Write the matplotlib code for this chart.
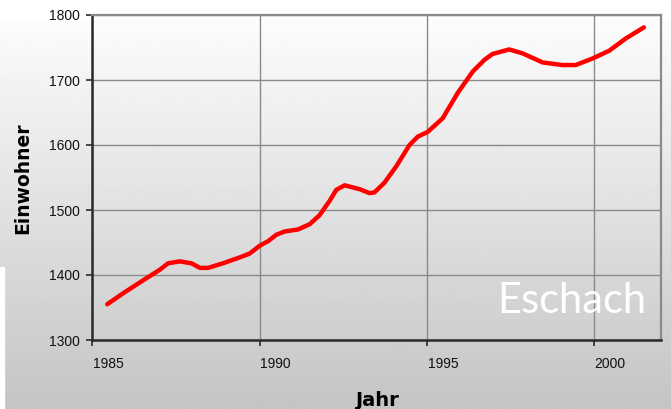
import numpy as np
import matplotlib
matplotlib.use("Agg")
import matplotlib.pyplot as plt
import matplotlib.transforms as mtransforms
from matplotlib.patches import Rectangle

# ---------------------------
# Data
# ---------------------------
years = [1985.44, 1985.92, 1986.52, 1987.01, 1987.26, 1987.61, 1987.96, 1988.21,
         1988.46, 1988.90, 1989.40, 1989.70, 1990.00, 1990.25, 1990.50, 1990.75,
         1991.14, 1991.49, 1991.79, 1992.09, 1992.29, 1992.54, 1992.99, 1993.28,
         1993.43, 1993.73, 1994.08, 1994.48, 1994.73, 1995.02, 1995.47, 1995.92,
         1996.37, 1996.72, 1996.96, 1997.46, 1997.86, 1998.46, 1999.05, 1999.45,
         1999.95, 2000.45, 2000.95, 2001.49]
einwohner = [1355, 1372, 1392, 1408, 1418, 1421, 1418, 1411,
             1411, 1418, 1427, 1433, 1445, 1452, 1462, 1467,
             1470, 1478, 1492, 1514, 1531, 1538, 1532, 1526,
             1527, 1542, 1567, 1600, 1613, 1620, 1641, 1680,
             1713, 1731, 1740, 1747, 1741, 1727, 1723, 1723,
             1733, 1745, 1764, 1781]

x_ticks = [1985, 1990, 1995, 2000]
y_ticks = [1300, 1400, 1500, 1600, 1700, 1800]

# ---------------------------
# Figure with grey gradient background
# ---------------------------
fig = plt.figure(figsize=(6.71, 4.09), dpi=100)

bg = fig.add_axes([0, 0, 1, 1], zorder=-10)
grad = np.linspace(1.0, 0.77, 256)
grad[:12] = 1.0  # top stays white for a few pixels
grad = grad.reshape(-1, 1)
bg.imshow(grad, cmap="gray", vmin=0, vmax=1, aspect="auto", extent=[0, 1, 0, 1])
bg.set_xlim(0, 1)
bg.set_ylim(0, 1)
bg.axis("off")
fig.patches.append(Rectangle((0, 0), 4 / 671, 142 / 409, transform=fig.transFigure,
                             color="white", zorder=-5))

ax = fig.add_axes([92.5 / 671, 69 / 409, (661 - 92.5) / 671, (340 - 15) / 409])
ax.set_facecolor("none")

ax.plot(years, einwohner, color="#ff0000", linewidth=3.2,
        solid_joinstyle="round", solid_capstyle="round", zorder=3)

ax.set_xlim(1985, 2002)
ax.set_ylim(1300, 1800)
ax.set_xticks(x_ticks)
ax.set_yticks(y_ticks)
ax.grid(True, color="#8a8a8a", linewidth=1.0)
ax.set_axisbelow(True)

for side in ["top", "right"]:
    ax.spines[side].set_color("#8a8a8a")
    ax.spines[side].set_linewidth(1.6)
for side in ["left", "bottom"]:
    ax.spines[side].set_color("#2a2a2a")
    ax.spines[side].set_linewidth(1.8)

ax.tick_params(axis="y", direction="out", length=4, width=1.2, color="#2a2a2a",
               labelsize=10, pad=5)
ax.tick_params(axis="x", direction="out", length=4, width=1.2, color="#2a2a2a",
               labelsize=10, pad=8)
for lbl in ax.get_xticklabels() + ax.get_yticklabels():
    lbl.set_family("Liberation Sans")
    lbl.set_color("#111111")

# x labels sit a bit right of their ticks
shift = mtransforms.ScaledTranslation(16 / 100, 0, fig.dpi_scale_trans)
for lbl in ax.get_xticklabels():
    lbl.set_transform(lbl.get_transform() + shift)

fig.text(23 / 671, 1 - 178 / 409, "Einwohner", rotation=90, ha="center", va="center",
         fontsize=13.5, fontweight="bold", color="black")
fig.text(377 / 671, 1 - 401 / 409, "Jahr", ha="center", va="center",
         fontsize=14, fontweight="bold", color="black")

fig.text(646 / 671, 1 - 313 / 409, "Eschach", ha="right", va="baseline",
         fontsize=30, color="white", family="Lato", fontweight="normal")

fig.savefig("out.png", dpi=100)
